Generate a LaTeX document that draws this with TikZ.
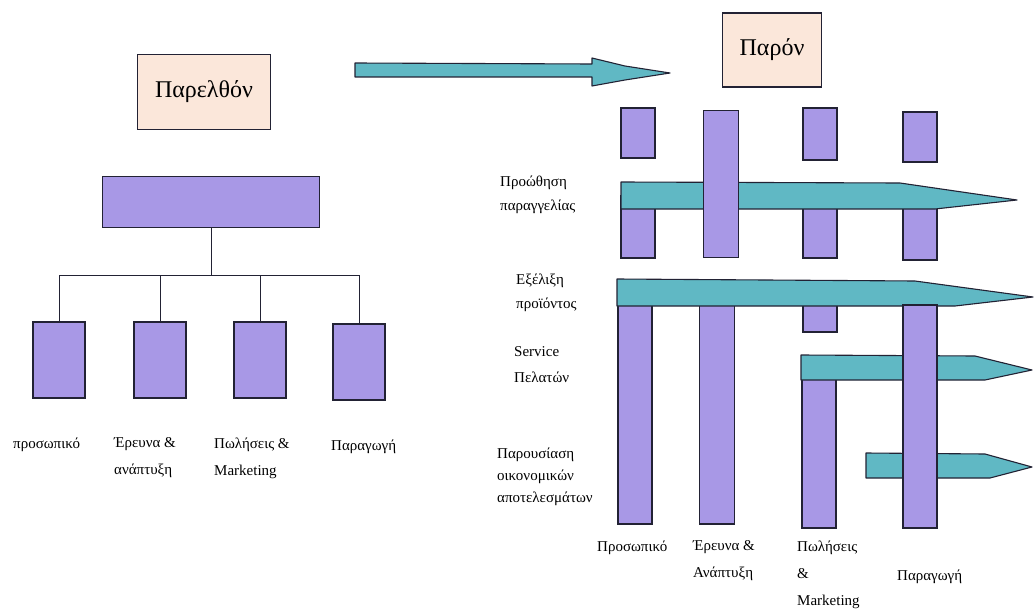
\documentclass[tikz,border=0pt]{standalone}
\usepackage{fontspec}
\setmainfont{Liberation Serif}
\usetikzlibrary{positioning}
\definecolor{pLilac}{RGB}{168,152,230}
\definecolor{pTeal}{RGB}{96,184,196}
\definecolor{pPeach}{RGB}{251,231,218}
\definecolor{pInk}{RGB}{34,34,52}
\tikzset{
    era/.style={rectangle, draw=pInk, line width=1.1pt, fill=pPeach, inner sep=0pt, font=\fontsize{24}{28}\selectfont},
    unit/.style={rectangle, draw=pInk, line width=1.1pt, fill=pLilac, inner sep=0pt, minimum width=34pt},
    band/.style={draw=pInk, line width=1.1pt, fill=pTeal, line join=round},
    tree/.style={draw=pInk, line width=0.9pt},
    lbl/.style={inner sep=0pt, align=left, font=\fontsize{15}{27}\selectfont}
}

\begin{document}
\begin{tikzpicture}[x=1pt,y=-1pt]
\useasboundingbox (0,0) rectangle (1036,610);
% past: classic hierarchy
\node[era, minimum width=133pt, minimum height=75pt] (past) at (204,92) {Παρελθόν};
\node[unit, minimum width=217pt, minimum height=51pt] (head) at (211,202) {};
\coordinate (bus) at (203,275);
\node[unit, minimum width=52pt, minimum height=76pt] (b1) at ( 59,360) {};
\node[unit, minimum width=52pt, minimum height=76pt] (b2) at (160,360) {};
\node[unit, minimum width=52pt, minimum height=76pt] (b3) at (260,360) {};
\node[unit, minimum width=52pt, minimum height=76pt] (b4) at (359,362) {};
\draw[tree] (head.south) -- (head.south |- bus);
\draw[tree] (b1.north) -- (b1.north |- bus) -- (b4.north |- bus) -- (b4.north);
\draw[tree] (b2.north) -- (b2.north |- bus);
\draw[tree] (b3.north) -- (b3.north |- bus);
\node[lbl, anchor=west] (l1) at ( 13,445) {προσωπικό};
\node[lbl, anchor=west] (l2) at (114,458) {Έρευνα \&\\ανάπτυξη};
\node[lbl, anchor=west] (l3) at (214,458) {Πωλήσεις \&\\Marketing};
\node[lbl, anchor=west] (l4) at (331,447) {Παραγωγή};
% big arrow past -> present
\draw[band] (355,63) -- (592,64) -- (592,58) -- (625,66) -- (670,73) -- (625,80) -- (592,86) -- (592,77) -- (355,77) -- cycle;
% present: processes across functions
\node[era, minimum width=99pt, minimum height=74pt] (now) at (772,50) {Παρόν};
\node[unit, minimum height=50pt] (r1a) at (638,133) {};
\node[unit, minimum height=52pt] (r3a) at (820,134) {};
\node[unit, minimum height=50pt] (r4a) at (920,137) {};
\node[unit, minimum height=62pt] (r1b) at (638,227) {};
\node[unit, minimum height=62pt] (r3b) at (820,227) {};
\node[unit, minimum height=64pt] (r4b) at (920,228) {};
\draw[band] (621,182) -- (900,183) -- (1017,200) -- (935,209) -- (621,209) -- cycle;
\node[unit, minimum width=35pt, minimum height=147pt] (r2a) at (721,184) {};
\node[unit, minimum height=232pt] (r1c) at (635,408) {};
\node[unit, minimum width=35pt, minimum height=232pt] (r2c) at (717,408) {};
\node[unit, minimum height=40pt] (r3c) at (820,312) {};
\draw[band] (617,279) -- (915,281) -- (1033,297) -- (955,306) -- (617,306) -- cycle;
\node[unit, minimum height=160pt] (r3d) at (819,448) {};
\draw[band] (801,355) -- (975,356) -- (1032,370) -- (985,380) -- (801,380) -- cycle;
\draw[band] (866,453) -- (985,454) -- (1032,467) -- (990,478) -- (866,478) -- cycle;
\node[unit, minimum height=223pt] (r4c) at (920,416.5) {};
\node[lbl, anchor=west, font=\fontsize{15}{24}\selectfont] (p1) at (500,195) {Προώθηση\\παραγγελίας};
\node[lbl, anchor=west, font=\fontsize{15}{24}\selectfont] (p2) at (516,293) {Εξέλιξη\\προϊόντος};
\node[lbl, anchor=west, font=\fontsize{15}{26}\selectfont] (p3) at (514,365) {Service\\Πελατών};
\node[lbl, anchor=west, font=\fontsize{15}{22}\selectfont] (p4) at (497,477) {Παρουσίαση\\οικονομικών\\αποτελεσμάτων};
\node[lbl, anchor=west] (f1) at (597,548) {Προσωπικό};
\node[lbl, anchor=west] (f2) at (693,561) {Έρευνα \&\\Ανάπτυξη};
\node[lbl, anchor=west] (f3) at (797,575) {Πωλήσεις\\\&\\Marketing};
\node[lbl, anchor=west] (f4) at (897,577) {Παραγωγή};
\end{tikzpicture}
\end{document}
